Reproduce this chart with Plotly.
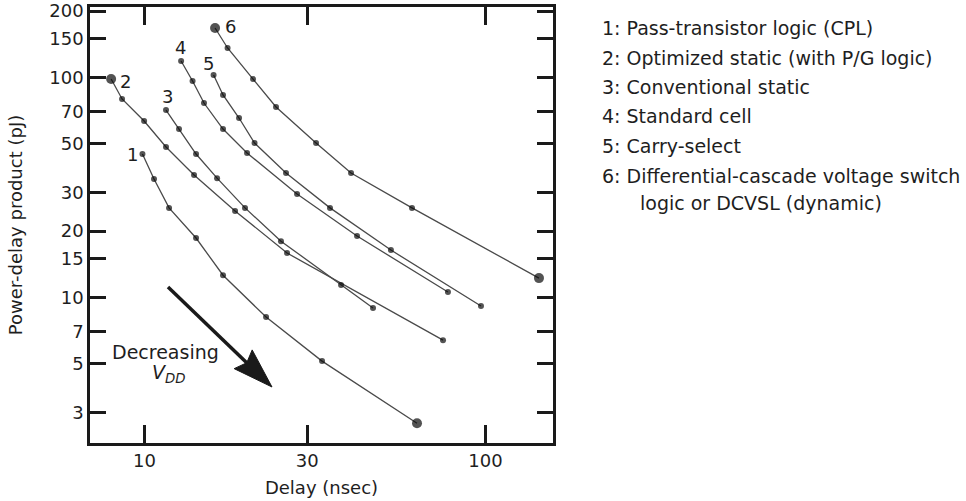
import math
import plotly.graph_objects as go

# ---------------- data ----------------
series_ids = ["1", "2", "3", "4", "5", "6"]
delay_1 = [9.86, 10.66, 11.80, 14.16, 16.99, 22.72, 33.16, 62.97]
pdp_1 = [44.8, 34.5, 25.5, 18.6, 12.6, 8.14, 5.13, 2.68]
delay_2 = [7.98, 8.59, 9.97, 11.56, 13.97, 18.43, 26.18, 75.06]
pdp_2 = [98.2, 79.7, 63.3, 48.2, 36.0, 24.7, 15.9, 6.39]
delay_3 = [11.56, 12.62, 14.16, 16.32, 19.71, 25.13, 37.70, 46.79]
pdp_3 = [71.0, 58.2, 44.8, 34.8, 25.5, 18.0, 11.37, 8.94]
delay_4 = [12.80, 13.83, 14.94, 16.99, 19.98, 28.01, 42.00, 77.6]
pdp_4 = [118.6, 96.2, 76.4, 58.2, 45.3, 29.5, 19.0, 10.57]
delay_5 = [15.94, 16.99, 18.93, 21.02, 26.0, 34.99, 52.8, 97.0]
pdp_5 = [102.4, 83.1, 65.3, 50.3, 36.7, 25.5, 16.4, 9.13]
delay_6 = [16.10, 17.52, 20.81, 24.30, 31.84, 40.33, 60.88, 143.5]
pdp_6 = [167.5, 135.9, 98.2, 73.3, 50.3, 36.7, 25.5, 12.23]
# which points are drawn with a large dot
big_first = [False, True, False, False, False, True]
big_last = [True, False, False, False, False, True]

legend_lines = [
    "1: Pass-transistor logic (CPL)",
    "2: Optimized static (with P/G logic)",
    "3: Conventional static",
    "4: Standard cell",
    "5: Carry-select",
    "6: Differential-cascade voltage switch",
]
legend_cont = "logic or DCVSL (dynamic)"

x_ticks = [10, 30, 100]
y_ticks = [3, 5, 7, 10, 15, 20, 30, 50, 70, 100, 150, 200]

# ---------------- layout constants ----------------
W, H = 966, 501
L, R, T, B = 90, 413, 7, 58
PW, PH = W - L - R, H - T - B
FONT = "DejaVu Sans"
TXT = "#1e1e1e"

delays = [delay_1, delay_2, delay_3, delay_4, delay_5, delay_6]
pdps = [pdp_1, pdp_2, pdp_3, pdp_4, pdp_5, pdp_6]

fig = go.Figure()
for i, (xs, ys) in enumerate(zip(delays, pdps)):
    sizes = [6] * len(xs)
    if big_first[i]:
        sizes[0] = 10
    if big_last[i]:
        sizes[-1] = 10
    fig.add_trace(go.Scatter(
        x=xs, y=ys, mode="lines+markers",
        line=dict(color="#4a4a4a", width=1.3),
        marker=dict(color="#0a0a0a", size=sizes, line=dict(width=0)),
        showlegend=False, hoverinfo="skip"))

# curve number labels next to the first point of each curve
label_shift = [(-10, 0), (14, -2), (1, 14), (-1, 14), (-5, 12), (15, 2)]
for sid, xs, ys, (dx, dy) in zip(series_ids, delays, pdps, label_shift):
    fig.add_annotation(x=math.log10(xs[0]), y=math.log10(ys[0]), xref="x", yref="y",
                       text=sid, showarrow=False, xshift=dx, yshift=dy,
                       xanchor="center", yanchor="middle",
                       font=dict(family=FONT, size=18, color=TXT))


def px_to_paper(px, py):
    return (px - L) / PW, (H - B - py) / PH


# legend-like description text on the right
leg_x, _ = px_to_paper(600, 0)
cont_x, _ = px_to_paper(638, 0)
for k, line in enumerate(legend_lines):
    _, yy = px_to_paper(0, 28 + 29.5 * k)
    fig.add_annotation(x=leg_x, y=yy, xref="paper", yref="paper", text=line,
                       showarrow=False, xanchor="left", yanchor="middle",
                       font=dict(family=FONT, size=19, color=TXT))
_, yy = px_to_paper(0, 203)
fig.add_annotation(x=cont_x, y=yy, xref="paper", yref="paper", text=legend_cont,
                   showarrow=False, xanchor="left", yanchor="middle",
                   font=dict(family=FONT, size=19, color=TXT))

# "Decreasing V_DD" note
ax_, ay_ = px_to_paper(165, 352)
fig.add_annotation(x=ax_, y=ay_, xref="paper", yref="paper", text="Decreasing",
                   showarrow=False, xanchor="center", yanchor="middle",
                   font=dict(family=FONT, size=19, color=TXT))
ax_, ay_ = px_to_paper(168, 373)
fig.add_annotation(x=ax_, y=ay_, xref="paper", yref="paper",
                   text="<i>V</i><sub><i>DD</i></sub>",
                   showarrow=False, xanchor="center", yanchor="middle",
                   font=dict(family=FONT, size=19, color=TXT))

# big arrow (shaft + narrow triangular head)
tail = (168, 287)
tip = (272, 387)
dx, dy = tip[0] - tail[0], tip[1] - tail[1]
ln = math.hypot(dx, dy)
ux, uy = dx / ln, dy / ln
nx, ny = -uy, ux
head_len, half_w, notch = 40, 13, 5
base = (tip[0] - ux * head_len, tip[1] - uy * head_len)
p1 = (base[0] + nx * half_w, base[1] + ny * half_w)
p2 = (base[0] - nx * half_w, base[1] - ny * half_w)
pn = (base[0] + ux * notch, base[1] + uy * notch)
shaft_end = (pn[0] + ux * 1, pn[1] + uy * 1)
s0 = px_to_paper(*tail)
s1 = px_to_paper(*shaft_end)
fig.add_shape(type="line", xref="paper", yref="paper",
              x0=s0[0], y0=s0[1], x1=s1[0], y1=s1[1],
              line=dict(color="#1a1a1a", width=3.5))
pts = [px_to_paper(*p) for p in (tip, p1, pn, p2)]
path = "M {} {} L {} {} L {} {} L {} {} Z".format(*[c for p in pts for c in p])
fig.add_shape(type="path", xref="paper", yref="paper", path=path,
              fillcolor="#1a1a1a", line=dict(color="#1a1a1a", width=1))

axis_common = dict(
    type="log", showgrid=False, zeroline=False,
    showline=True, linecolor="#1a1a1a", linewidth=2.5, mirror="ticks",
    ticks="inside", tickwidth=2.5, tickcolor="#1a1a1a",
    tickfont=dict(family=FONT, size=18, color=TXT),
)

fig.update_layout(
    width=W, height=H,
    margin=dict(l=L, r=R, t=T, b=B, autoexpand=False),
    paper_bgcolor="white", plot_bgcolor="white",
    xaxis=dict(range=[0.840, 2.198], tickvals=x_ticks,
               ticktext=[str(v) for v in x_ticks], ticklen=18,
               title=dict(text="Delay (nsec)", standoff=12,
                          font=dict(family=FONT, size=18, color=TXT)),
               **axis_common),
    yaxis=dict(range=[0.338, 2.3195], tickvals=y_ticks,
               ticktext=[str(v) for v in y_ticks], ticklen=16,
               title=dict(text="Power-delay product (pJ)", standoff=22,
                          font=dict(family=FONT, size=18, color=TXT)),
               **axis_common),
)

fig.write_html("out.html", config={"displayModeBar": False},
               post_script="document.body.style.margin='0';")
